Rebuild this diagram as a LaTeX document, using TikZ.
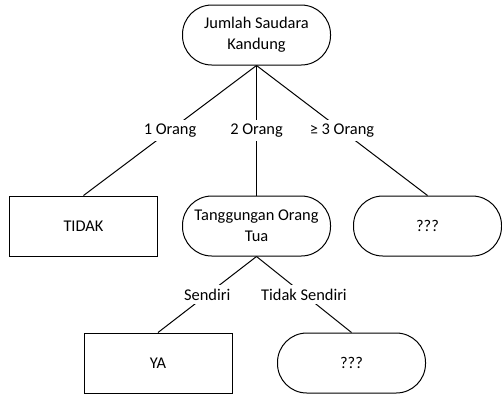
\documentclass[tikz,border=0pt]{standalone}
\usepackage{fontspec}
\setmainfont{Carlito}
\usepackage{tikz}

\tikzset{
  kriteria/.style={draw, rounded corners=22pt, minimum width=111pt, minimum height=45pt, align=center, inner sep=2pt},
  hasil/.style={draw, minimum width=111pt, minimum height=45pt, align=center},
  cabang/.style={fill=white, inner sep=3pt}
}

\begin{document}
\begin{tikzpicture}[x=0.75pt,y=0.75pt,yscale=-1,xscale=1, line width=0.75pt, font=\fontsize{12.3}{15.75}\selectfont]

\useasboundingbox (0,0) rectangle (502,394);

\node[kriteria] (saudara) at (256.5,35) {Jumlah Saudara\\Kandung};

\node[hasil] (tidak) at (83.5,226) {TIDAK};
\node[kriteria] (tanggungan) at (256.5,226) {Tanggungan Orang\\Tua};
\node[kriteria] (tanya1) at (427.5,226) {???};

\node[hasil] (ya) at (158,363) {YA};
\node[kriteria] (tanya2) at (351.5,363) {???};

\draw (saudara.south) -- node[cabang] {1 Orang} (tidak.north);
\draw (saudara.south) -- node[cabang] {2 Orang} (tanggungan.north);
\draw (saudara.south) -- node[cabang] {≥ 3 Orang} (tanya1.north);

\draw (tanggungan.south) -- node[cabang] {Sendiri} (ya.north);
\draw (tanggungan.south) -- node[cabang] {Tidak Sendiri} (tanya2.north);
\end{tikzpicture}
\end{document}
